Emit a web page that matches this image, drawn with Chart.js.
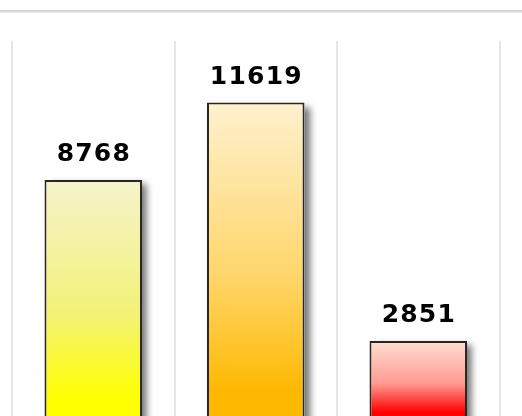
<!DOCTYPE html>
<html>
<head>
<meta charset="utf-8">
<script src="https://cdn.jsdelivr.net/npm/chart.js@4/dist/chart.umd.min.js"></script>
<style>
  html, body { margin: 0; padding: 0; background: #ffffff; overflow: hidden; width: 522px; height: 416px; }
  #topline { position: absolute; left: 0; top: 10px; width: 522px; height: 2px; background: #d9d9d9; box-shadow: 0 1px 0 #ebebeb; }
  #wrap { position: absolute; left: 0; top: 0; width: 522px; height: 430px; }
</style>
</head>
<body>
<div id="topline"></div>
<div id="wrap"><canvas id="c"></canvas></div>
<script>
const categories = ['Item 1', 'Item 2', 'Item 3'];
const values = [8768, 11619, 2851];
const yMin = 0;
const yMax = 13880;

const topColors = ['#f6f3cc', '#fff1cf', '#ffded2'];
const midColors = ['#f2f27a', '#ffd66a', '#ff9a90'];
const bottomColors = ['#ffff00', '#ffb800', '#ff0000'];

function barGradient(context) {
  const chart = context.chart;
  const area = chart.chartArea;
  const i = context.dataIndex;
  if (!area || !chart.scales.y || i === undefined) return bottomColors[i] || '#ccc';
  const y = chart.scales.y;
  const top = y.getPixelForValue(values[i]);
  const bottom = y.getPixelForValue(yMin);
  const g = chart.ctx.createLinearGradient(0, top, 0, bottom);
  g.addColorStop(0, topColors[i]);
  g.addColorStop(0.55, midColors[i]);
  g.addColorStop(0.92, bottomColors[i]);
  g.addColorStop(1, bottomColors[i]);
  return g;
}

const decorPlugin = {
  id: 'decor',
  beforeDatasetsDraw(chart) {
    const ctx = chart.ctx;
    const meta = chart.getDatasetMeta(0);
    ctx.save();
    ctx.shadowColor = 'rgba(0,0,0,0.55)';
    ctx.shadowBlur = 7;
    ctx.shadowOffsetX = 5;
    ctx.shadowOffsetY = 4;
    ctx.fillStyle = '#ffffff';
    meta.data.forEach((bar) => {
      const p = bar.getProps(['x', 'y', 'base', 'width'], true);
      ctx.fillRect(p.x - p.width / 2, p.y, p.width, p.base - p.y);
    });
    ctx.restore();
  },
  afterDatasetsDraw(chart) {
    const ctx = chart.ctx;
    const meta = chart.getDatasetMeta(0);
    ctx.save();
    ctx.font = 'bold 25px "DejaVu Sans", Verdana, sans-serif';
    ctx.letterSpacing = '1.2px';
    ctx.fillStyle = '#000000';
    ctx.textAlign = 'center';
    ctx.textBaseline = 'alphabetic';
    meta.data.forEach((bar, i) => {
      ctx.fillText(String(values[i]), bar.x + 0.6, bar.y - 19);
    });
    ctx.restore();
  }
};

new Chart(document.getElementById('c'), {
  type: 'bar',
  data: {
    labels: categories,
    datasets: [{
      data: values,
      backgroundColor: barGradient,
      borderColor: '#2a2622',
      borderWidth: 2,
      borderSkipped: false,
      barPercentage: 0.6,
      categoryPercentage: 1.0
    }]
  },
  options: {
    responsive: true,
    maintainAspectRatio: false,
    animation: false,
    layout: { padding: { left: 12, right: 22.5, top: 41, bottom: 11.4 } },
    plugins: { legend: { display: false }, tooltip: { enabled: false }, title: { display: false } },
    scales: {
      x: {
        display: true,
        ticks: { display: false },
        border: { display: false },
        grid: { display: true, color: '#e6e6e6', lineWidth: 2, drawTicks: false, offset: true }
      },
      y: {
        display: false,
        min: yMin,
        max: yMax
      }
    }
  },
  plugins: [decorPlugin]
});
</script>
</body>
</html>
